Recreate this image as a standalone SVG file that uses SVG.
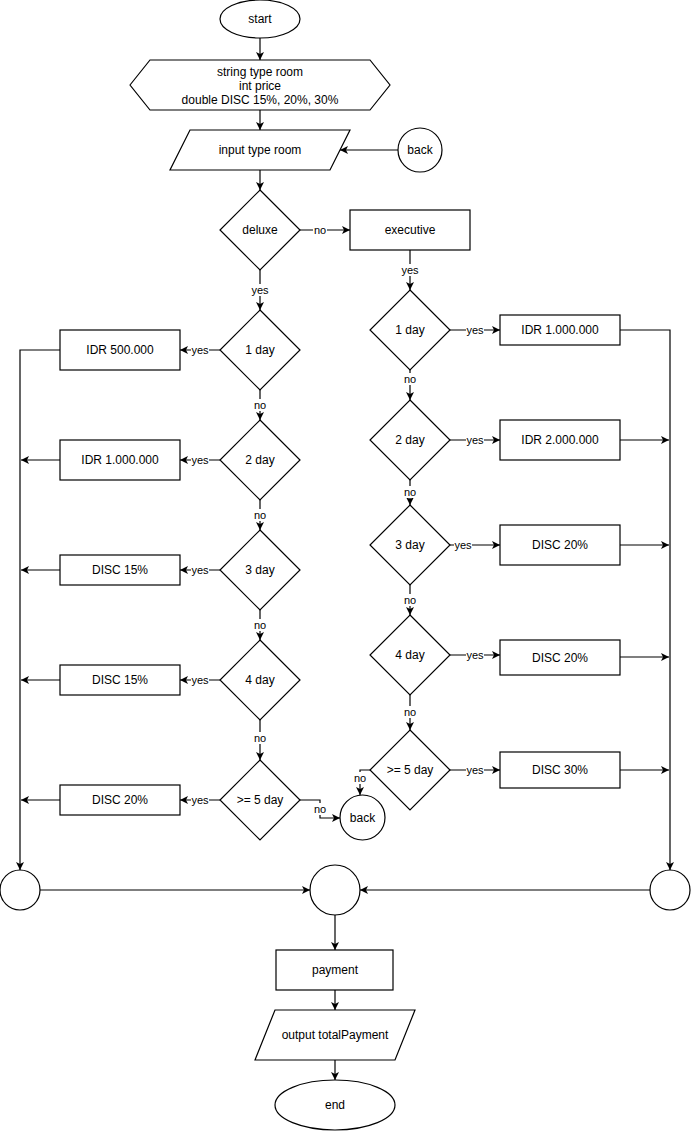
<svg xmlns="http://www.w3.org/2000/svg" width="691" height="1131" viewBox="0 0 691 1131">
  <defs>
    <marker id="arrow" markerUnits="userSpaceOnUse" markerWidth="10" markerHeight="10" refX="8" refY="4" orient="auto">
      <path d="M0,0 L8,4 L0,8 L2,4 z" fill="#000"/>
    </marker>
    <style>
      .shape { fill: #fff; stroke: #000; stroke-width: 1.2; }
      .txt { font-family: "Liberation Sans", Arial, sans-serif; font-size: 12px; fill: #000; text-anchor: middle; dominant-baseline: central; }
      .edge { fill: none; stroke: #000; stroke-width: 1.2; }
      .arr { marker-end: url(#arrow); }
      .lbl { font-family: "Liberation Sans", Arial, sans-serif; font-size: 11px; fill: #000; text-anchor: middle; dominant-baseline: central; }
      .lblbg { fill: #fff; }
    </style>
  </defs>
  <rect width="691" height="1131" fill="#fff"/>

  <!-- connectors -->
  <g id="connectors">
    <path class="edge arr" d="M260,38 L260,60"/>
    <path class="edge arr" d="M260,110 L260,130"/>
    <path class="edge arr" d="M398,150 L340,150"/>
    <path class="edge arr" d="M260,170 L260,190"/>
    <path class="edge arr" d="M300,230 L350,230"/>
    <path class="edge arr" d="M260,270 L260,310"/>
    <path class="edge arr" d="M410,250 L410,290"/>

    <!-- deluxe branch -->
    <path class="edge arr" d="M220,350 L180,350"/>
    <path class="edge arr" d="M260,390 L260,420"/>
    <path class="edge arr" d="M220,460 L180,460"/>
    <path class="edge arr" d="M260,500 L260,530"/>
    <path class="edge arr" d="M220,570 L180,570"/>
    <path class="edge arr" d="M260,610 L260,640"/>
    <path class="edge arr" d="M220,680 L180,680"/>
    <path class="edge arr" d="M260,720 L260,760"/>
    <path class="edge arr" d="M220,800 L180,800"/>
    <path class="edge arr" d="M300,800 L320,800 L320,818 L340,818"/>

    <!-- deluxe results to left join -->
    <path class="edge arr" d="M60,350 L20,350 L20,870"/>
    <path class="edge arr" d="M60,460 L21,460"/>
    <path class="edge arr" d="M60,570 L21,570"/>
    <path class="edge arr" d="M60,680 L21,680"/>
    <path class="edge arr" d="M60,800 L21,800"/>
    <path class="edge arr" d="M40,890 L310,890"/>

    <!-- executive branch -->
    <path class="edge arr" d="M450,330 L500,330"/>
    <path class="edge arr" d="M410,370 L410,400"/>
    <path class="edge arr" d="M450,440 L500,440"/>
    <path class="edge arr" d="M410,480 L410,505"/>
    <path class="edge arr" d="M450,545 L500,545"/>
    <path class="edge arr" d="M410,585 L410,615"/>
    <path class="edge arr" d="M450,655 L500,655"/>
    <path class="edge arr" d="M410,695 L410,730"/>
    <path class="edge arr" d="M450,770 L500,770"/>
    <path class="edge arr" d="M370,770 L360,770 L360,795"/>

    <!-- executive results to right join -->
    <path class="edge arr" d="M620,330 L670,330 L670,870"/>
    <path class="edge arr" d="M620,440 L669,440"/>
    <path class="edge arr" d="M620,545 L669,545"/>
    <path class="edge arr" d="M620,657 L669,657"/>
    <path class="edge arr" d="M620,770 L669,770"/>
    <path class="edge arr" d="M650,890 L360,890"/>

    <!-- tail -->
    <path class="edge arr" d="M335,915 L335,950"/>
    <path class="edge arr" d="M335,990 L335,1010"/>
    <path class="edge arr" d="M335,1060 L335,1080"/>

    <!-- edge labels -->
    <g>
      <rect class="lblbg" x="313" y="224" width="14" height="12"/><text class="lbl" x="320" y="230">no</text>
      <rect class="lblbg" x="251" y="284" width="18" height="12"/><text class="lbl" x="260" y="290">yes</text>
      <rect class="lblbg" x="401" y="264" width="18" height="12"/><text class="lbl" x="410" y="270">yes</text>

      <rect class="lblbg" x="191" y="344" width="18" height="12"/><text class="lbl" x="200" y="350">yes</text>
      <rect class="lblbg" x="253" y="399" width="14" height="12"/><text class="lbl" x="260" y="405">no</text>
      <rect class="lblbg" x="191" y="454" width="18" height="12"/><text class="lbl" x="200" y="460">yes</text>
      <rect class="lblbg" x="253" y="509" width="14" height="12"/><text class="lbl" x="260" y="515">no</text>
      <rect class="lblbg" x="191" y="564" width="18" height="12"/><text class="lbl" x="200" y="570">yes</text>
      <rect class="lblbg" x="253" y="619" width="14" height="12"/><text class="lbl" x="260" y="625">no</text>
      <rect class="lblbg" x="191" y="674" width="18" height="12"/><text class="lbl" x="200" y="680">yes</text>
      <rect class="lblbg" x="253" y="732" width="14" height="12"/><text class="lbl" x="260" y="738">no</text>
      <rect class="lblbg" x="191" y="794" width="18" height="12"/><text class="lbl" x="200" y="800">yes</text>
      <rect class="lblbg" x="313" y="803" width="14" height="12"/><text class="lbl" x="320" y="809">no</text>

      <rect class="lblbg" x="466" y="324" width="18" height="12"/><text class="lbl" x="475" y="330">yes</text>
      <rect class="lblbg" x="403" y="373" width="14" height="12"/><text class="lbl" x="410" y="379">no</text>
      <rect class="lblbg" x="466" y="434" width="18" height="12"/><text class="lbl" x="475" y="440">yes</text>
      <rect class="lblbg" x="403" y="486" width="14" height="12"/><text class="lbl" x="410" y="492">no</text>
      <rect class="lblbg" x="454" y="539" width="18" height="12"/><text class="lbl" x="463" y="545">yes</text>
      <rect class="lblbg" x="403" y="594" width="14" height="12"/><text class="lbl" x="410" y="600">no</text>
      <rect class="lblbg" x="466" y="649" width="18" height="12"/><text class="lbl" x="475" y="655">yes</text>
      <rect class="lblbg" x="403" y="706" width="14" height="12"/><text class="lbl" x="410" y="712">no</text>
      <rect class="lblbg" x="466" y="764" width="18" height="12"/><text class="lbl" x="475" y="770">yes</text>
      <rect class="lblbg" x="353" y="772" width="14" height="12"/><text class="lbl" x="360" y="778">no</text>
    </g>
  </g>

  <!-- nodes -->
  <g id="start"><ellipse class="shape" cx="260" cy="19" rx="40" ry="19"/><text class="txt" x="260" y="19">start</text></g>
  <g id="declare">
    <polygon class="shape" points="130,85 150,60 370,60 390,85 370,110 150,110"/>
    <text class="txt" x="260" y="72">string type room</text>
    <text class="txt" x="260" y="86">int price</text>
    <text class="txt" x="260" y="100">double DISC 15%, 20%, 30%</text>
  </g>
  <g id="input"><polygon class="shape" points="190,130 350,130 330,170 170,170"/><text class="txt" x="260" y="150">input type room</text></g>
  <g id="back-top"><circle class="shape" cx="420" cy="150" r="22"/><text class="txt" x="420" y="150">back</text></g>
  <g id="deluxe"><polygon class="shape" points="260,190 300,230 260,270 220,230"/><text class="txt" x="260" y="230">deluxe</text></g>
  <g id="executive"><rect class="shape" x="350" y="210" width="120" height="40"/><text class="txt" x="410" y="230">executive</text></g>

  <!-- deluxe column -->
  <g id="d-day1"><polygon class="shape" points="260,310 300,350 260,390 220,350"/><text class="txt" x="260" y="350">1 day</text></g>
  <g id="d-price1"><rect class="shape" x="60" y="330" width="120" height="40"/><text class="txt" x="120" y="350">IDR 500.000</text></g>
  <g id="d-day2"><polygon class="shape" points="260,420 300,460 260,500 220,460"/><text class="txt" x="260" y="460">2 day</text></g>
  <g id="d-price2"><rect class="shape" x="60" y="440" width="120" height="40"/><text class="txt" x="120" y="460">IDR 1.000.000</text></g>
  <g id="d-day3"><polygon class="shape" points="260,530 300,570 260,610 220,570"/><text class="txt" x="260" y="570">3 day</text></g>
  <g id="d-disc3"><rect class="shape" x="60" y="555" width="120" height="30"/><text class="txt" x="120" y="570">DISC 15%</text></g>
  <g id="d-day4"><polygon class="shape" points="260,640 300,680 260,720 220,680"/><text class="txt" x="260" y="680">4 day</text></g>
  <g id="d-disc4"><rect class="shape" x="60" y="665" width="120" height="30"/><text class="txt" x="120" y="680">DISC 15%</text></g>
  <g id="d-day5"><polygon class="shape" points="260,760 300,800 260,840 220,800"/><text class="txt" x="260" y="800">&gt;= 5 day</text></g>
  <g id="d-disc5"><rect class="shape" x="60" y="785" width="120" height="30"/><text class="txt" x="120" y="800">DISC 20%</text></g>
  <g id="back-bottom"><circle class="shape" cx="362.5" cy="817.5" r="22.5"/><text class="txt" x="362.5" y="818">back</text></g>

  <!-- executive column -->
  <g id="e-day1"><polygon class="shape" points="410,290 450,330 410,370 370,330"/><text class="txt" x="410" y="330">1 day</text></g>
  <g id="e-price1"><rect class="shape" x="500" y="315" width="120" height="30"/><text class="txt" x="560" y="330">IDR 1.000.000</text></g>
  <g id="e-day2"><polygon class="shape" points="410,400 450,440 410,480 370,440"/><text class="txt" x="410" y="440">2 day</text></g>
  <g id="e-price2"><rect class="shape" x="500" y="420" width="120" height="40"/><text class="txt" x="560" y="440">IDR 2.000.000</text></g>
  <g id="e-day3"><polygon class="shape" points="410,505 450,545 410,585 370,545"/><text class="txt" x="410" y="545">3 day</text></g>
  <g id="e-disc3"><rect class="shape" x="500" y="525" width="120" height="40"/><text class="txt" x="560" y="545">DISC 20%</text></g>
  <g id="e-day4"><polygon class="shape" points="410,615 450,655 410,695 370,655"/><text class="txt" x="410" y="655">4 day</text></g>
  <g id="e-disc4"><rect class="shape" x="500" y="640" width="120" height="35"/><text class="txt" x="560" y="658">DISC 20%</text></g>
  <g id="e-day5"><polygon class="shape" points="410,730 450,770 410,810 370,770"/><text class="txt" x="410" y="770">&gt;= 5 day</text></g>
  <g id="e-disc5"><rect class="shape" x="500" y="752" width="120" height="36"/><text class="txt" x="560" y="770">DISC 30%</text></g>

  <!-- joins and tail -->
  <g id="join-left"><circle class="shape" cx="20" cy="890" r="20"/></g>
  <g id="join-main"><circle class="shape" cx="335" cy="890" r="25"/></g>
  <g id="join-right"><circle class="shape" cx="670" cy="890" r="20"/></g>
  <g id="payment"><rect class="shape" x="276" y="950" width="117" height="40"/><text class="txt" x="335" y="970">payment</text></g>
  <g id="output"><polygon class="shape" points="275,1010 415,1010 395,1060 255,1060"/><text class="txt" x="335" y="1035">output totalPayment</text></g>
  <g id="end"><ellipse class="shape" cx="335" cy="1105" rx="60" ry="25"/><text class="txt" x="335" y="1105">end</text></g>
</svg>
